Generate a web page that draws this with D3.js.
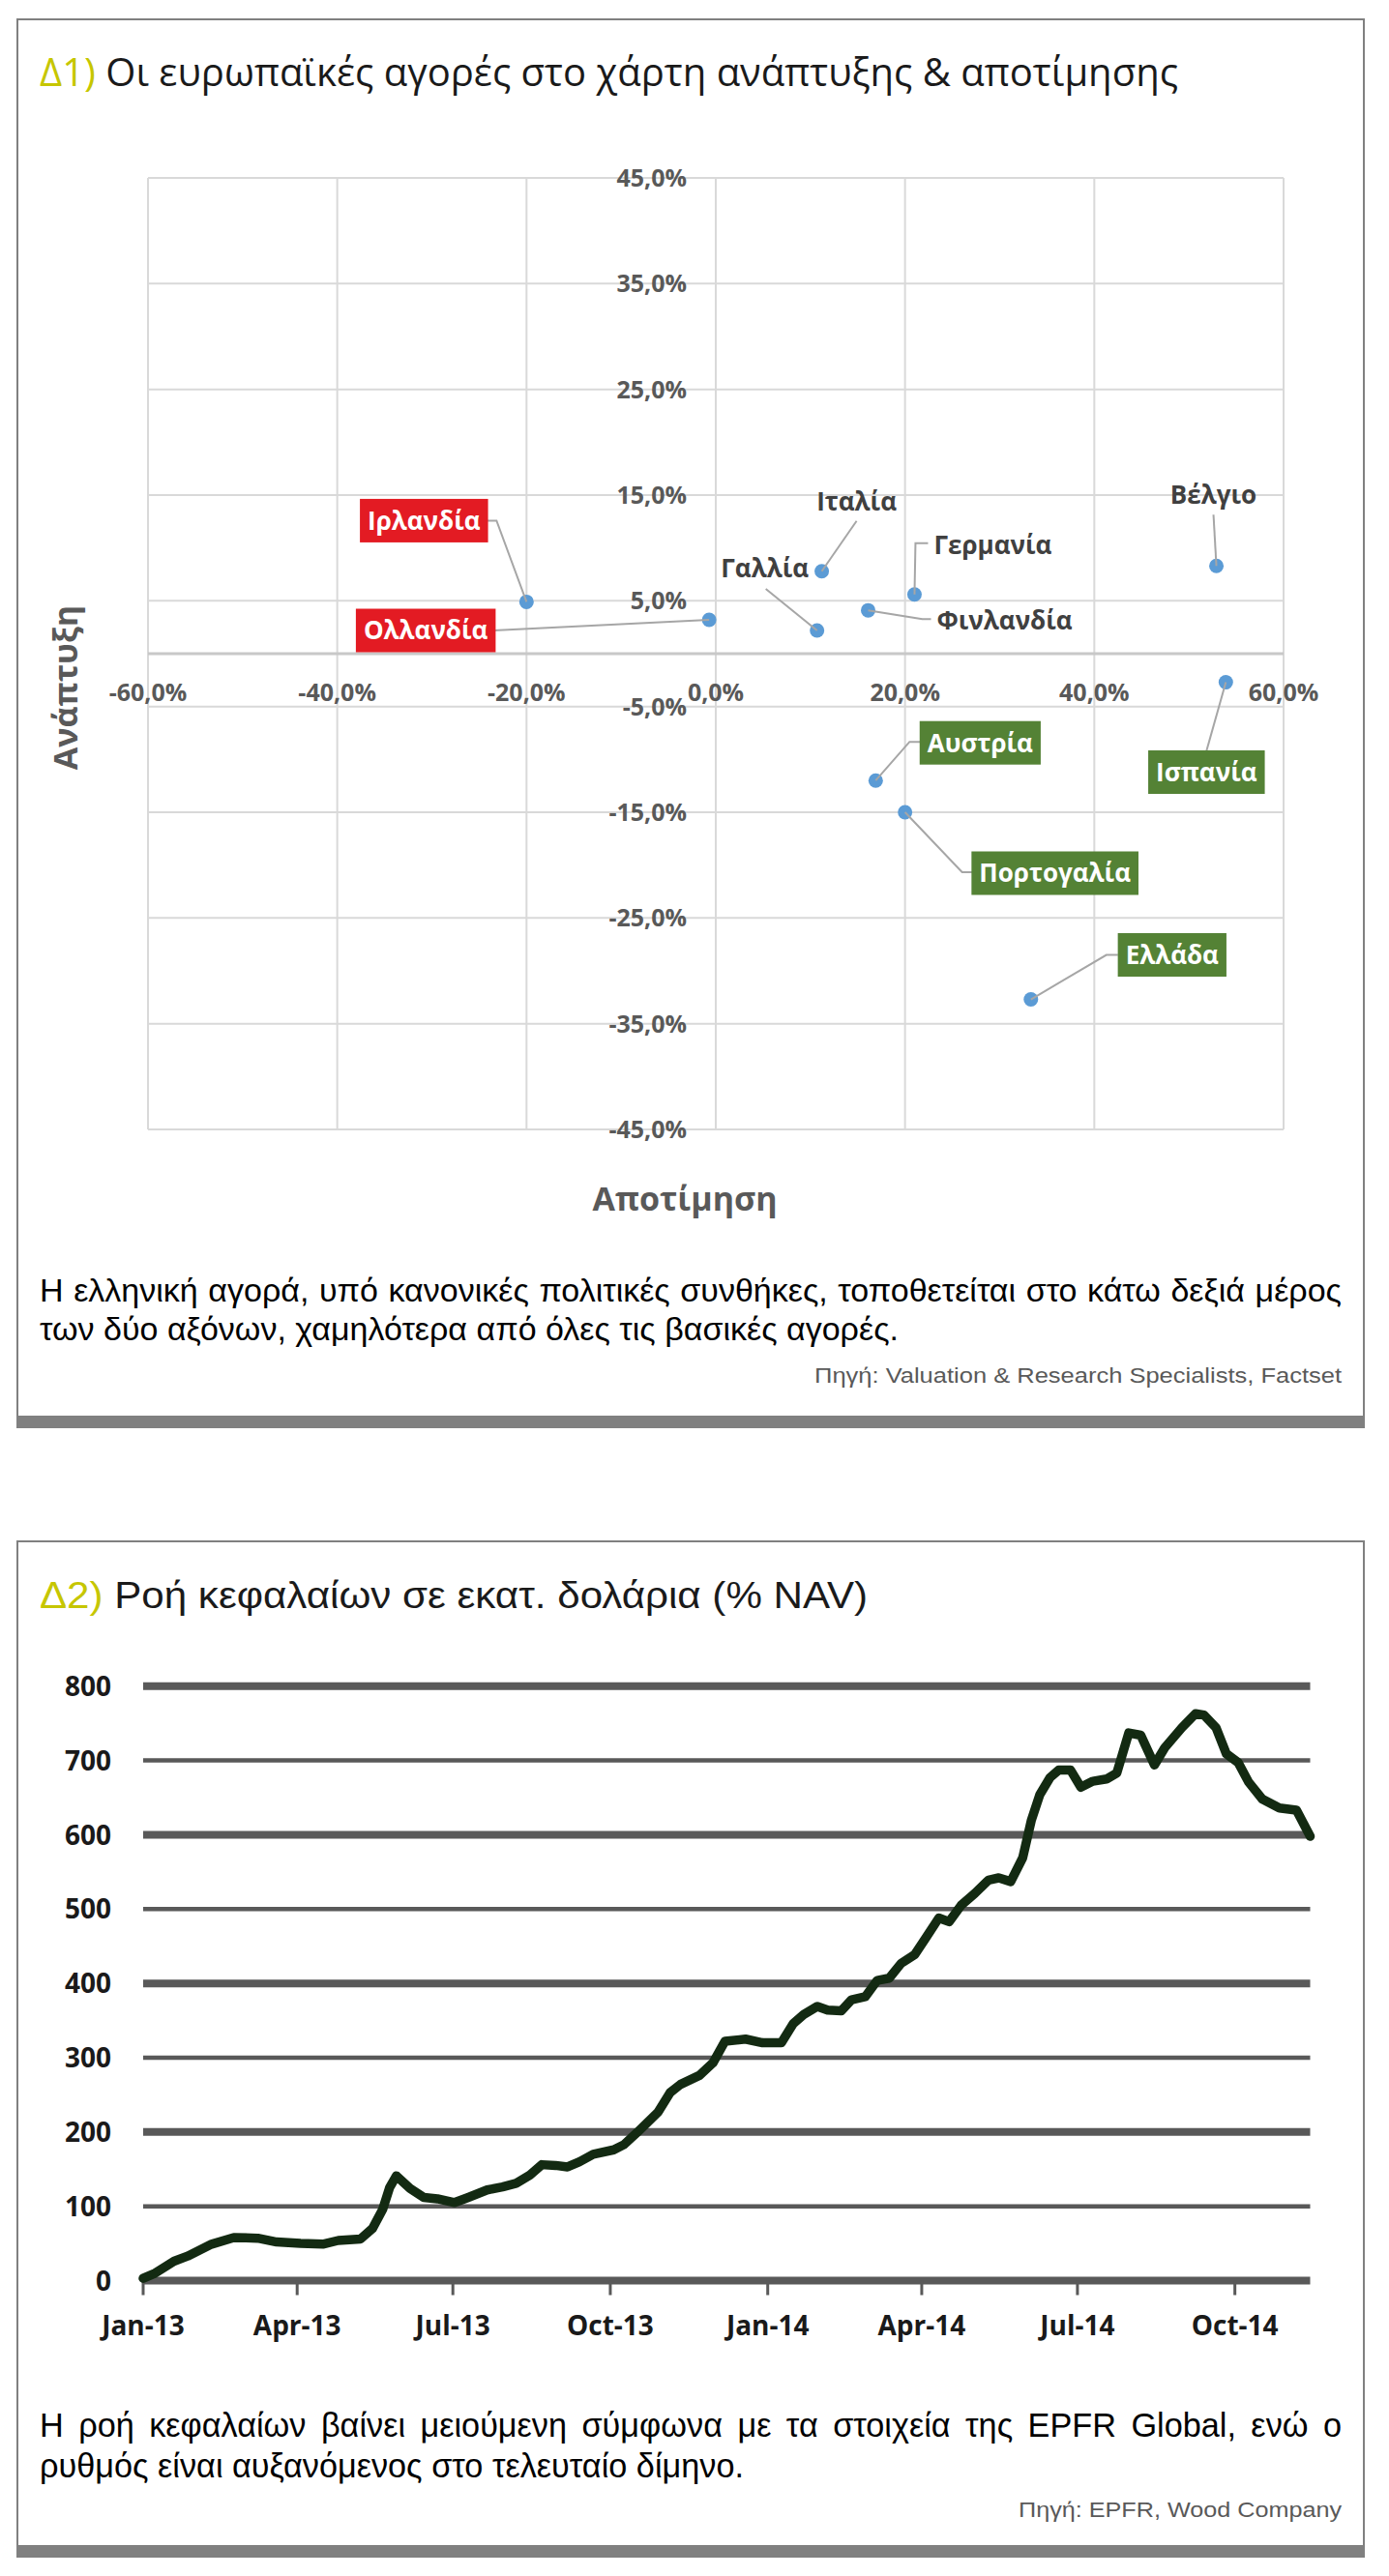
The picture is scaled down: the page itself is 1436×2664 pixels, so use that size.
<!DOCTYPE html>
<html>
<head>
<meta charset="utf-8">
<script src="https://cdn.jsdelivr.net/npm/d3@7"></script>
<style>
body{margin:0;background:#fff;}
svg{display:block;}
</style>
</head>
<body>
<svg id="page" width="1436" height="2664"></svg>
<script>
// ---- Δ1 data: valuation (x) vs growth (y), in %
var markets = ["Ιρλανδία","Ολλανδία","Ιταλία","Γαλλία","Γερμανία","Φινλανδία","Βέλγιο","Ισπανία","Αυστρία","Πορτογαλία","Ελλάδα"];
var valuation = [-20.0, -0.7, 11.2, 10.7, 21.0, 16.1, 52.9, 53.9, 16.9, 20.0, 33.3];
var growth = [4.9, 3.2, 7.8, 2.2, 5.6, 4.1, 8.3, -2.7, -12.0, -15.0, -32.7];
var marketGroup = ["red","red","plain","plain","plain","plain","plain","green","green","green","green"];
var xTicks1 = [-60, -40, -20, 0, 20, 40, 60];
var yTicks1 = [45, 35, 25, 15, 5, -5, -15, -25, -35, -45];

// ---- Δ2 data: fund flows, $m
var flowDates = ["2013-01-01","2013-01-08","2013-01-19","2013-01-27","2013-02-10","2013-02-23","2013-03-09","2013-03-20",
  "2013-04-03","2013-04-16","2013-04-25","2013-05-08","2013-05-15","2013-05-21","2013-05-25","2013-05-29",
  "2013-06-06","2013-06-14","2013-06-22","2013-07-02","2013-07-10","2013-07-21","2013-07-30","2013-08-07",
  "2013-08-15","2013-08-22","2013-08-30","2013-09-06","2013-09-13","2013-09-21","2013-10-03","2013-10-09",
  "2013-10-17","2013-10-29","2013-11-05","2013-11-11","2013-11-22","2013-11-30","2013-12-07","2013-12-19",
  "2013-12-29","2014-01-09","2014-01-16","2014-01-22","2014-01-30","2014-02-05","2014-02-13","2014-02-19",
  "2014-02-27","2014-03-06","2014-03-13","2014-03-20","2014-03-28","2014-04-03","2014-04-11","2014-04-17",
  "2014-04-24","2014-05-02","2014-05-10","2014-05-16","2014-05-23","2014-05-30","2014-06-04","2014-06-09",
  "2014-06-15","2014-06-20","2014-06-27","2014-07-03","2014-07-10","2014-07-18","2014-07-24","2014-07-31",
  "2014-08-07","2014-08-15","2014-08-21","2014-08-31","2014-09-08","2014-09-13","2014-09-20","2014-09-26",
  "2014-10-03","2014-10-09","2014-10-17","2014-10-27","2014-11-06","2014-11-14"];
var flowValues = [3, 10, 26, 33, 49, 58, 57, 52,
  50, 49, 54, 56, 70, 96, 125, 141,
  124, 112, 110, 105, 112, 122, 126, 131,
  142, 156, 155, 153, 160, 170, 176, 183,
  200, 227, 253, 264, 276, 293, 322, 325,
  320, 320, 346, 358, 369, 364, 363, 378,
  382, 404, 407, 427, 439, 460, 488, 483,
  505, 521, 539, 542, 537, 569, 619, 654,
  677, 687, 687, 664, 672, 675, 683, 737,
  734, 694, 717, 744, 763, 761, 744, 709,
  697, 671, 648, 636, 633, 598];
var yTicks2 = [0, 100, 200, 300, 400, 500, 600, 700, 800];
var xTickDates2 = ["2013-01-01","2013-04-01","2013-07-01","2013-10-01","2014-01-01","2014-04-01","2014-07-01","2014-10-01"];
var xTickLabels2 = ["Jan-13","Apr-13","Jul-13","Oct-13","Jan-14","Apr-14","Jul-14","Oct-14"];

// label placement (pixels, relative to the point)
var labelLayout = {
    "Ιρλανδία":   {dx:-106, dy:-84, leader:[[-42,-84],[-31,-84],[0,0]]},
    "Ολλανδία":   {dx:-293, dy:11,  leader:[[-223,11],[0,0]]},
    "Ιταλία":     {dx:36,   dy:-72, leader:[[36,-52],[0,0]]},
    "Γαλλία":     {dx:-54,  dy:-64, leader:[[-53,-43],[0,0]]},
    "Γερμανία":   {dx:81,   dy:-51, leader:[[14,-53],[1,-53],[0,0]]},
    "Φινλανδία":  {dx:141,  dy:10,  leader:[[65,9],[56,9],[0,0]]},
    "Βέλγιο":     {dx:-3,   dy:-74, leader:[[-3,-53],[0,0]]},
    "Ισπανία":    {dx:-20,  dy:93,  leader:[[-20,71],[0,0]]},
    "Αυστρία":    {dx:108,  dy:-39, leader:[[47,-40],[35,-40],[0,0]]},
    "Πορτογαλία": {dx:155,  dy:63,  leader:[[70,62],[59,62],[0,0]]},
    "Ελλάδα":     {dx:146,  dy:-46, leader:[[90,-46],[78,-46],[0,0]]}
};

var arial = "'Liberation Sans',Arial,sans-serif";
var chartFont = "'Open Sans','Noto Sans',sans-serif";

var svg = d3.select("#page");

function panel(top, bottom){
    svg.append("rect")
        .attr("x", 18).attr("y", top)
        .attr("width", 1392).attr("height", bottom - top)
        .attr("fill", "none")
        .attr("stroke", "#808080")
        .attr("stroke-width", 2);
    svg.append("rect")
        .attr("x", 17).attr("y", bottom)
        .attr("width", 1394).attr("height", 12)
        .attr("fill", "#808080");
}

function title(prefix, rest, y, width, font, size){
    var t = svg.append("text")
        .attr("x", 41).attr("y", y)
        .attr("font-family", font)
        .attr("font-size", size)
        .attr("textLength", width)
        .attr("lengthAdjust", "spacingAndGlyphs");
    t.append("tspan").attr("fill", "#c6c600").text(prefix);
    t.append("tspan").attr("fill", "#1a1a1a").text(" " + rest);
}

//font size that makes a string as wide as it is in the picture
function fitSize(str, width){
    var probe = svg.append("text")
        .attr("font-family", arial)
        .attr("font-size", 28)
        .text(str);
    var w = probe.node().getComputedTextLength();
    probe.remove();
    return 28 * width / w;
}

function plainLine(str, x, y, width, size, color, anchor){
    svg.append("text")
        .attr("x", x).attr("y", y)
        .attr("font-family", arial)
        .attr("font-size", size)
        .attr("fill", color)
        .attr("text-anchor", anchor || "start")
        .attr("textLength", width)
        .attr("lengthAdjust", "spacingAndGlyphs")
        .text(str);
}

//justified line: words spread over the full width
function justifiedLine(str, x, y, width, size, color){
    var words = str.split(" ");
    var nodes = words.map(function(w){
        return svg.append("text")
            .attr("y", y)
            .attr("font-family", arial)
            .attr("font-size", size)
            .attr("fill", color)
            .text(w);
    });
    var widths = nodes.map(function(n){ return n.node().getComputedTextLength(); });
    var sum = d3.sum(widths);
    var minGap = size * 0.22;
    var f = 1;
    if(sum + minGap * (words.length - 1) > width){
        f = (width - minGap * (words.length - 1)) / sum;
    }
    var gap = (width - sum * f) / (words.length - 1);
    var cx = x;
    nodes.forEach(function(n, i){
        n.attr("x", cx);
        if(f < 1){
            n.attr("textLength", widths[i] * f).attr("lengthAdjust", "spacingAndGlyphs");
        }
        cx += widths[i] * f + gap;
    });
}

// ================= Panel Δ1 =================
panel(20, 1465);
title("Δ1)", "Οι ευρωπαϊκές αγορές στο χάρτη ανάπτυξης & αποτίμησης", 89, 1177, chartFont, 40);

var xScale1 = d3.scaleLinear().domain([-60, 60]).range([153, 1327]);
var yScale1 = d3.scaleLinear().domain([-45, 45]).range([1168, 184]);

function pct(v){
    return v.toFixed(1).replace(".", ",") + "%";
}

var g1 = svg.append("g");

g1.selectAll(".vgrid")
    .data(xTicks1)
    .enter()
    .append("line")
    .attr("x1", function(d){ return xScale1(d); })
    .attr("x2", function(d){ return xScale1(d); })
    .attr("y1", yScale1(45))
    .attr("y2", yScale1(-45))
    .attr("stroke", "#d9d9d9")
    .attr("stroke-width", 2);

g1.selectAll(".hgrid")
    .data(yTicks1)
    .enter()
    .append("line")
    .attr("x1", xScale1(-60))
    .attr("x2", xScale1(60))
    .attr("y1", function(d){ return yScale1(d); })
    .attr("y2", function(d){ return yScale1(d); })
    .attr("stroke", "#d9d9d9")
    .attr("stroke-width", 2);

//horizontal axis at 0
g1.append("line")
    .attr("x1", xScale1(-60)).attr("x2", xScale1(60))
    .attr("y1", yScale1(0)).attr("y2", yScale1(0))
    .attr("stroke", "#c8c8c8")
    .attr("stroke-width", 3);

g1.selectAll(".ylab")
    .data(yTicks1)
    .enter()
    .append("text")
    .attr("x", xScale1(0) - 30)
    .attr("y", function(d){ return yScale1(d); })
    .attr("dy", "0.36em")
    .attr("text-anchor", "end")
    .attr("font-family", chartFont)
    .attr("font-weight", "bold")
    .attr("font-size", 25)
    .attr("fill", "#595959")
    .text(pct);

g1.selectAll(".xlab")
    .data(xTicks1)
    .enter()
    .append("text")
    .attr("x", function(d){ return xScale1(d); })
    .attr("y", yScale1(0) + 40)
    .attr("dy", "0.36em")
    .attr("text-anchor", "middle")
    .attr("font-family", chartFont)
    .attr("font-weight", "bold")
    .attr("font-size", 25)
    .attr("fill", "#595959")
    .text(pct);

//axis titles
g1.append("text")
    .attr("transform", "translate(80,711) rotate(-90)")
    .attr("text-anchor", "middle")
    .attr("font-family", chartFont)
    .attr("font-weight", "bold")
    .attr("font-size", 34)
    .attr("fill", "#595959")
    .text("Ανάπτυξη");

g1.append("text")
    .attr("x", 708).attr("y", 1252)
    .attr("text-anchor", "middle")
    .attr("font-family", chartFont)
    .attr("font-weight", "bold")
    .attr("font-size", 34)
    .attr("fill", "#595959")
    .text("Αποτίμηση");

var points = markets.map(function(m, i){
    return {name: m, x: valuation[i], y: growth[i], group: marketGroup[i]};
});

g1.selectAll(".pt")
    .data(points)
    .enter()
    .append("circle")
    .attr("cx", function(d){ return xScale1(d.x); })
    .attr("cy", function(d){ return yScale1(d.y); })
    .attr("r", 7.5)
    .attr("fill", "#5b9bd5");

var leader = d3.line();
g1.selectAll(".leader")
    .data(points)
    .enter()
    .append("path")
    .attr("d", function(d){
        var px = xScale1(d.x), py = yScale1(d.y);
        return leader(labelLayout[d.name].leader.map(function(p){ return [px + p[0], py + p[1]]; }));
    })
    .attr("fill", "none")
    .attr("stroke", "#a6a6a6")
    .attr("stroke-width", 2);

var boxColor = {red: "#e31b23", green: "#548235"};

points.forEach(function(d){
    var lay = labelLayout[d.name];
    var cx = xScale1(d.x) + lay.dx, cy = yScale1(d.y) + lay.dy;
    var lg = g1.append("g");
    var box = lg.append("rect");
    var t = lg.append("text")
        .attr("x", cx).attr("y", cy)
        .attr("dy", "0.36em")
        .attr("text-anchor", "middle")
        .attr("font-family", chartFont)
        .attr("font-weight", "bold")
        .attr("font-size", 26)
        .attr("fill", d.group == "plain" ? "#404040" : "#fff")
        .text(d.name);
    if(d.group != "plain"){
        var w = t.node().getComputedTextLength() + 16;
        box.attr("x", cx - w/2).attr("y", cy - 22.5)
            .attr("width", w).attr("height", 45)
            .attr("fill", boxColor[d.group]);
    } else {
        box.remove();
    }
});

var cap1b = "των δύο αξόνων, χαμηλότερα από όλες τις βασικές αγορές.";
var size1 = fitSize(cap1b, 888);
justifiedLine("Η ελληνική αγορά, υπό κανονικές πολιτικές συνθήκες, τοποθετείται στο κάτω δεξιά μέρος", 41, 1346, 1346, size1, "#000");
plainLine(cap1b, 41, 1386, 888, size1, "#000");
plainLine("Πηγή:  Valuation & Research Specialists, Factset", 1387, 1430, 545, 22, "#595959", "end");

// ================= Panel Δ2 =================
panel(1594, 2633);
title("Δ2)", "Ροή κεφαλαίων σε εκατ. δολάρια (% NAV)", 1663, 856, arial, 39);

var parseDate = d3.timeParse("%Y-%m-%d");
var flows = flowDates.map(function(d, i){
    return {date: parseDate(d), value: flowValues[i]};
});

var xScale2 = d3.scaleTime()
    .domain([parseDate("2013-01-01"), parseDate("2014-11-14")])
    .range([148, 1354.5]);
var yScale2 = d3.scaleLinear().domain([0, 800]).range([2358.5, 1743.75]);

var g2 = svg.append("g");

g2.selectAll(".grid2")
    .data(yTicks2)
    .enter()
    .append("line")
    .attr("x1", 148).attr("x2", 1354.5)
    .attr("y1", function(d){ return yScale2(d); })
    .attr("y2", function(d){ return yScale2(d); })
    .attr("stroke", "#595959")
    .attr("stroke-width", function(d){ return d % 200 == 0 ? 8 : 4.5; });

g2.selectAll(".ytl2")
    .data(yTicks2)
    .enter()
    .append("text")
    .attr("x", 115)
    .attr("y", function(d){ return yScale2(d); })
    .attr("dy", "0.36em")
    .attr("text-anchor", "end")
    .attr("font-family", chartFont)
    .attr("font-weight", "bold")
    .attr("font-size", 28)
    .attr("fill", "#1a1a1a")
    .text(function(d){ return d; });

var tickDates = xTickDates2.map(parseDate);

g2.selectAll(".tick2")
    .data(tickDates)
    .enter()
    .append("line")
    .attr("x1", function(d){ return xScale2(d); })
    .attr("x2", function(d){ return xScale2(d); })
    .attr("y1", yScale2(0))
    .attr("y2", yScale2(0) + 15)
    .attr("stroke", "#595959")
    .attr("stroke-width", 3);

g2.selectAll(".xtl2")
    .data(tickDates)
    .enter()
    .append("text")
    .attr("x", function(d){ return xScale2(d); })
    .attr("y", 2415)
    .attr("text-anchor", "middle")
    .attr("font-family", chartFont)
    .attr("font-weight", "bold")
    .attr("font-size", 28)
    .attr("fill", "#1a1a1a")
    .text(function(d, i){ return xTickLabels2[i]; });

var flowLine = d3.line()
    .x(function(d){ return xScale2(d.date); })
    .y(function(d){ return yScale2(d.value); });

g2.append("path")
    .datum(flows)
    .attr("d", flowLine)
    .attr("fill", "none")
    .attr("stroke", "#132a12")
    .attr("stroke-width", 9.5)
    .attr("stroke-linejoin", "round")
    .attr("stroke-linecap", "round");

var cap2b = "ρυθμός είναι αυξανόμενος στο τελευταίο δίμηνο.";
var size2 = fitSize(cap2b, 728);
justifiedLine("Η ροή κεφαλαίων βαίνει μειούμενη σύμφωνα με τα στοιχεία της EPFR Global, ενώ ο", 41, 2520, 1346, size2, "#000");
plainLine(cap2b, 41, 2562, 728, size2, "#000");
plainLine("Πηγή: EPFR, Wood Company", 1387, 2603, 334, 22, "#595959", "end");
</script>
</body>
</html>
